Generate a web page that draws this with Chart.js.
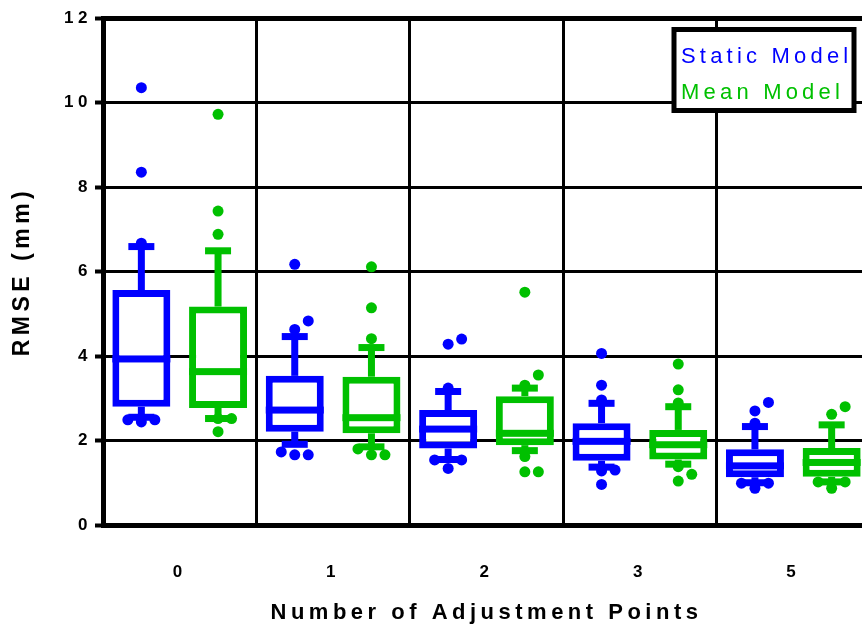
<!DOCTYPE html>
<html>
<head>
<meta charset="utf-8">
<script src="https://cdn.jsdelivr.net/npm/chart.js@4.4.1/dist/chart.umd.min.js"></script>
<style>
  html, body { margin: 0; padding: 0; background: #fff; overflow: hidden; }
  #wrap { width: 880px; height: 626px; }
</style>
</head>
<body>
<div id="wrap"><canvas id="chart" width="880" height="626"></canvas></div>
<script>
const categories = ["0", "1", "2", "3", "5"];
const seriesNames = ["Static Model", "Mean Model"];
const seriesColors = ["#0000ff", "#00c000"];
const yTicks = [0, 2, 4, 6, 8, 10, 12];

// Static model box stats
const staticMin = [2.55, 1.91, 1.55, 1.37, 1.00];
const staticQ1 = [2.80, 2.21, 1.81, 1.52, 1.13];
const staticMedian = [3.93, 2.72, 2.27, 1.98, 1.40];
const staticQ3 = [5.56, 3.53, 2.72, 2.41, 1.79];
const staticMax = [6.59, 4.46, 3.16, 2.88, 2.33];
const staticOutliers = [
  [10.35, 8.35, 6.67, 2.49, 2.49, 2.44],
  [6.17, 4.83, 4.63, 1.73, 1.66, 1.66],
  [4.40, 4.28, 3.24, 1.54, 1.54, 1.34],
  [4.06, 3.31, 2.96, 1.30, 1.28, 0.96],
  [2.90, 2.70, 2.41, 0.99, 0.99, 0.87]
];

// Mean model box stats
const meanMin = [2.52, 1.85, 1.76, 1.44, 1.02];
const meanQ1 = [2.77, 2.17, 1.89, 1.55, 1.14];
const meanMedian = [3.63, 2.54, 2.17, 1.90, 1.48];
const meanQ3 = [5.17, 3.51, 3.05, 2.25, 1.82];
const meanMax = [6.49, 4.20, 3.24, 2.80, 2.37];
const meanOutliers = [
  [9.72, 7.43, 6.88, 2.52, 2.52, 2.21],
  [6.11, 5.14, 4.41, 1.80, 1.66, 1.66],
  [5.51, 3.55, 3.31, 1.62, 1.26, 1.26],
  [3.81, 3.20, 2.89, 1.38, 1.20, 1.04],
  [2.80, 2.62, 1.02, 1.02, 0.87]
];

const FONT = "'Liberation Sans', Arial, Helvetica, sans-serif";
const STROKE = 7;
const DOT_R = 5.5;

// spread dots that would sit on top of each other
function placeDots(values, yScale) {
  const placed = [];
  const items = values.map(v => ({ v, y: yScale.getPixelForValue(v) })).sort((a, b) => b.y - a.y);
  for (const d of items) {
    let dx = 0;
    for (const t of [0, 1, -1, 2, -2]) {
      const cx = t * (2 * DOT_R + 2.5);
      if (!placed.some(p => Math.hypot(p.dx - cx, p.y - d.y) < 2 * DOT_R)) { dx = cx; break; }
    }
    placed.push({ dx, y: d.y });
  }
  return placed;
}

const spacingPlugin = {
  id: "spacing",
  beforeDraw(chart) { chart.ctx.letterSpacing = "4.5px"; }
};

const boxPlugin = {
  id: "boxExtras",
  afterDatasetsDraw(chart) {
    const { ctx } = chart;
    const y = chart.scales.y;
    chart.data.datasets.forEach((ds, di) => {
      const meta = chart.getDatasetMeta(di);
      const s = ds.stats;
      meta.data.forEach((bar, i) => {
        const { x, width } = bar.getProps(["x", "width"], true);
        const pMin = y.getPixelForValue(s.min[i]);
        const pQ1 = y.getPixelForValue(s.q1[i]);
        const pMed = y.getPixelForValue(s.median[i]);
        const pQ3 = y.getPixelForValue(s.q3[i]);
        const pMax = y.getPixelForValue(s.max[i]);
        ctx.save();
        ctx.fillStyle = ds.borderColor;
        // whiskers + caps
        ctx.fillRect(x - STROKE / 2, pMax, STROKE, pQ3 - pMax);
        ctx.fillRect(x - STROKE / 2, pQ1, STROKE, pMin - pQ1);
        ctx.fillRect(x - 13, pMax - STROKE / 2, 26, STROKE);
        ctx.fillRect(x - 13, pMin - STROKE / 2, 26, STROKE);
        // median
        ctx.fillRect(x - width / 2, pMed - STROKE / 2, width, STROKE);
        // outliers
        for (const d of placeDots(s.outliers[i], y)) {
          ctx.beginPath();
          ctx.arc(x + d.dx, d.y, DOT_R, 0, Math.PI * 2);
          ctx.fill();
        }
        ctx.restore();
      });
    });
  }
};

const legendPlugin = {
  id: "boxLegend",
  afterDraw(chart) {
    const { ctx, chartArea } = chart;
    const left = chartArea.right - 196, top = chartArea.top + 11.5;
    ctx.save();
    ctx.fillStyle = "#fff";
    ctx.strokeStyle = "#000";
    ctx.lineWidth = 5;
    ctx.fillRect(left, top, 180, 81);
    ctx.strokeRect(left, top, 180, 81);
    ctx.font = "22px " + FONT;
    ctx.letterSpacing = "4.2px";
    ctx.textBaseline = "alphabetic";
    ctx.textAlign = "left";
    seriesNames.forEach((name, i) => {
      ctx.fillStyle = seriesColors[i];
      ctx.fillText(name, left + 7, top + 33 + i * 36);
    });
    ctx.restore();
  }
};

const tickFont = { family: FONT, size: 17, weight: "bold" };
const titleFont = { family: FONT, size: 22, weight: "bold" };

new Chart(document.getElementById("chart"), {
  type: "bar",
  data: {
    labels: categories,
    datasets: [
      {
        label: seriesNames[0],
        data: categories.map((c, i) => [staticQ1[i], staticQ3[i]]),
        stats: { min: staticMin, q1: staticQ1, median: staticMedian, q3: staticQ3, max: staticMax, outliers: staticOutliers },
        backgroundColor: "#fff",
        borderColor: seriesColors[0],
        borderWidth: STROKE,
        borderSkipped: false,
        categoryPercentage: 1,
        barPercentage: 0.756
      },
      {
        label: seriesNames[1],
        data: categories.map((c, i) => [meanQ1[i], meanQ3[i]]),
        stats: { min: meanMin, q1: meanQ1, median: meanMedian, q3: meanQ3, max: meanMax, outliers: meanOutliers },
        backgroundColor: "#fff",
        borderColor: seriesColors[1],
        borderWidth: STROKE,
        borderSkipped: false,
        categoryPercentage: 1,
        barPercentage: 0.756
      }
    ]
  },
  options: {
    responsive: false,
    animation: false,
    layout: { padding: { left: 0, right: 10, top: 18, bottom: 0 } },
    plugins: { legend: { display: false }, tooltip: { enabled: false } },
    scales: {
      x: {
        offset: true,
        grid: { offset: true, color: "#000", lineWidth: 3, drawTicks: false },
        border: { color: "#000", width: 5 },
        ticks: { color: "#000", font: tickFont, padding: 37 },
        title: { display: true, text: "Number of Adjustment Points", color: "#000", font: titleFont, padding: 0 },
        afterFit: s => { s.height = 101; }
      },
      y: {
        min: yTicks[0],
        max: yTicks[yTicks.length - 1],
        afterBuildTicks: s => { s.ticks = yTicks.map(v => ({ value: v })); },
        ticks: { color: "#000", font: tickFont, padding: 3 },
        grid: {
          color: "#000",
          lineWidth: c => (c.tick && c.tick.value === 12 ? 5 : 3),
          tickLength: 8,
          tickWidth: 4,
          tickColor: "#000"
        },
        border: { color: "#000", width: 5 },
        title: { display: true, text: "RMSE (mm)", color: "#000", font: { family: FONT, size: 23, weight: "bold" }, padding: { top: 9, bottom: 0 } },
        afterFit: s => { s.width = 103; }
      }
    }
  },
  plugins: [spacingPlugin, boxPlugin, legendPlugin]
});
</script>
</body>
</html>
